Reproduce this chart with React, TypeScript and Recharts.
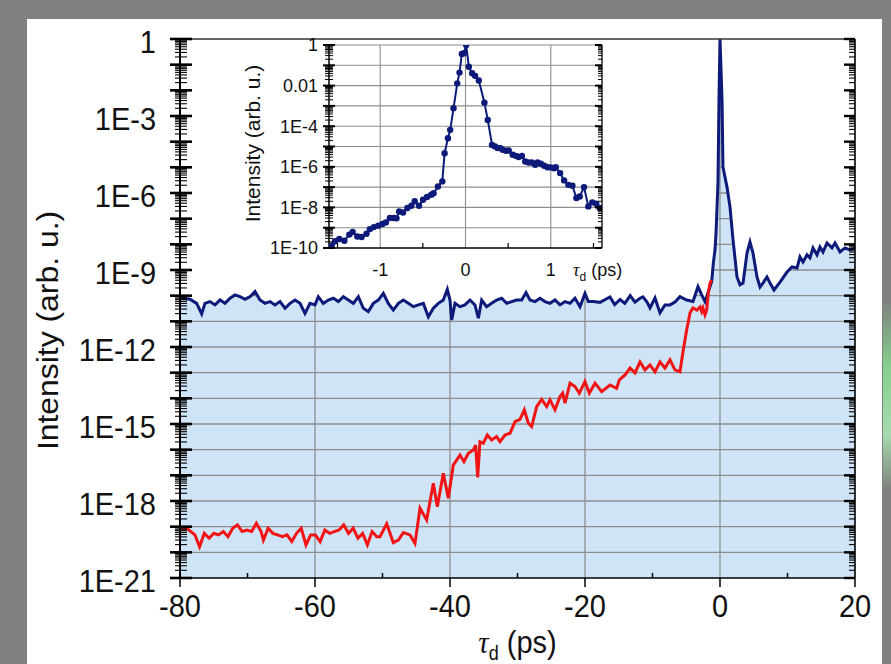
import React from 'react'
import { ComposedChart, Line, Area, XAxis, YAxis, CartesianGrid, ReferenceLine } from 'recharts'

const NAVY = '#0d1a7a'
const RED = '#f01414'
const FILL = '#cfe4f7'
const GRID = '#8e8e8e'
const GRAY = '#7f817e'
const FONT = '"Liberation Sans", Arial, sans-serif'

// main plot, blue trace: delay (ps) and log10 of intensity
const blueT = [
  -80, -79.51, -78.52, -77.53, -76.79, -76.3, -75.56, -74.81, -74.07, -73.33, -72.59, -71.85, -71.11,
  -70.37, -69.63, -68.89, -68.15, -67.41, -66.67, -65.93, -65.19, -64.44, -63.7, -62.96, -62.22, -61.48,
  -60.74, -60, -59.51, -58.77, -58.02, -57.28, -56.54, -55.8, -55.06, -54.32, -53.58, -52.84, -52.1,
  -51.36, -50.62, -49.88, -49.14, -48.4, -47.65, -46.91, -46.17, -45.43, -44.69, -43.95, -43.21, -42.47,
  -41.73, -40.99, -40.4, -40, -39.75, -39.26, -38.52, -37.78, -37.04, -36.3, -35.8, -35.31, -34.57,
  -33.83, -33.09, -32.35, -31.6, -30.86, -30.12, -29.38, -28.74, -28.15, -27.41, -26.67, -25.93, -25.19,
  -24.44, -23.7, -22.96, -22.22, -21.48, -20.74, -20, -19.51, -18.77, -17.78, -17, -16.3, -15.6, -14.8,
  -14.1, -13.3, -12.6, -11.85, -11.41, -10.81, -10.37, -9.63, -8.89, -8.15, -7.41, -6.67, -5.93, -4.94,
  -4, -3.26, -2.71, -2.22, -1.78, -1.23, -0.99, -0.74, -0.59, -0.3, -0.15, 0, 0.3, 0.44, 1.04, 1.48,
  1.93, 2.52, 2.96, 3.41, 4, 4.44, 4.89, 5.48, 5.93, 6.37, 6.96, 7.41, 8, 8.89, 9.93, 10.67, 11.41,
  11.85, 12.3, 12.89, 13.33, 13.78, 14.37, 14.81, 15.26, 15.85, 16.59, 17.04, 17.78, 18.52, 19.26, 20,
]
const blueExp = [
  -10.05, -10.1, -10.14, -10.3, -10.71, -10.3, -10.23, -10.36, -10.17, -10.3, -10.1, -9.97, -10.04,
  -10.14, -10.04, -9.84, -10.17, -10.3, -10.23, -10.36, -10.23, -10.49, -10.3, -10.17, -10.3, -10.69,
  -10.3, -10.36, -10.04, -10.3, -10.17, -10.1, -10.23, -10.04, -10.17, -10.3, -10.04, -10.49, -10.62,
  -10.3, -10.17, -9.91, -10.3, -10.56, -10.3, -10.17, -10.3, -10.43, -10.36, -10.3, -10.82, -10.49,
  -10.3, -10.17, -9.75, -10.17, -10.95, -10.3, -10.43, -10.36, -10.17, -10.36, -10.88, -10.17, -10.43,
  -10.3, -10.17, -10.1, -10.3, -10.23, -10.17, -10.17, -9.88, -10.17, -10.23, -10.1, -10.23, -10.3,
  -10.17, -10.36, -10.23, -10.3, -10.1, -10.43, -9.91, -10.23, -10.23, -10.26, -10.15, -10.05, -10.35, -10.15,
  -10.3, -10.0, -10.25, -10.1, -10.05, -10.25, -10.48, -10.09, -10.67, -10.36, -10.36, -10.25, -10.04, -10.17,
  -10.23, -9.65, -9.97, -10.23, -9.89, -9.45, -8.73, -8.22, -7.56, -5.61, -2.38, 0, -2.38, -4.99, -5.77, -6.54,
  -7.83, -9.27, -9.58, -9.51, -8.34, -7.91, -8.34, -9.27, -9.66, -9.51, -9.27, -9.51, -9.78, -9.47, -9.08, -8.88, -8.92,
  -8.49, -8.69, -8.41, -8.53, -8.14, -8.41, -8.1, -8.3, -7.95, -8.14, -7.95, -8.3, -8.14, -8.22, -8.14,
]

// main plot, red trace
const redT = [
  -80, -79.54, -78.84, -77.79, -77.1, -76.4, -75.69, -74.99, -74.29, -73.59, -72.89, -72.19, -71.49,
  -70.79, -70.09, -69.39, -68.69, -67.99, -67.64, -66.94, -66.24, -65.54, -64.84, -64.14, -63.44, -62.74,
  -62.04, -61.34, -60.64, -59.94, -59.24, -58.54, -57.84, -57.14, -56.44, -55.74, -55.04, -54.34, -53.64,
  -52.94, -52.24, -51.54, -50.84, -50.37, -49.38, -48.4, -47.65, -46.91, -45.93, -45.19, -44.44, -43.46,
  -42.47, -41.88, -40.99, -40.25, -39.51, -38.52, -37.93, -37.28, -36.54, -36.2, -35.9, -35.56, -35.06,
  -34.47, -33.83, -33.09, -32.59, -31.85, -31.11, -30.37, -29.63, -28.99, -28.4, -27.9, -27.16, -26.42,
  -25.68, -25.19, -24.44, -23.7, -23.31, -22.96, -22.22, -21.48, -20.84, -20, -19.36, -18.52, -17.53,
  -16.3, -15.31, -14.91, -14.07, -13.33, -12.59, -11.85, -11.11, -10.37, -9.63, -8.89, -8.15, -7.41,
  -6.67, -5.93, -5.44, -4.94, -4.44, -4, -3.41, -2.96, -2.71, -2.52, -2.22, -1.97, -1.73, -1.48, -1.23,
]
const redExp = [
  -19.05, -19.06, -19.1, -19.32, -19.78, -19.26, -19.45, -19.26, -19.32, -19.19, -19.39, -19.06, -18.93,
  -19.19, -19.13, -19.19, -18.87, -19.19, -19.52, -19.06, -19.26, -19.32, -19.39, -19.32, -19.58, -19.26,
  -19.06, -19.71, -19.32, -19.32, -19.58, -19.13, -19.26, -19.19, -19.13, -18.93, -19.26, -19.06, -19.45,
  -19.26, -19.71, -19.19, -19.39, -19.39, -18.89, -19.62, -19.52, -19.23, -19.32, -19.65, -18.28, -18.74,
  -17.31, -18.22, -16.92, -17.89, -16.6, -16.21, -16.47, -16.14, -16.01, -15.82, -17.08, -15.69, -15.75,
  -15.43, -15.62, -15.49, -15.69, -15.43, -15.36, -14.91, -14.82, -14.45, -14.97, -15.1, -14.32, -14.04,
  -14.32, -14.06, -14.45, -13.93, -13.8, -14.19, -13.41, -13.54, -13.8, -13.35, -13.8, -13.41, -13.74,
  -13.48, -13.61, -13.28, -13.09, -12.82, -13.01, -12.58, -12.89, -12.7, -12.97, -12.58, -12.82, -12.5,
  -12.89, -12.96, -12.12, -11.34, -10.67, -10.48, -10.56, -10.44, -10.62, -10.48, -10.75, -10.56, -9.89, -9.51, -9.39,
]

// inset, measured points around zero delay
const insetT = [
  -1.568, -1.529, -1.479, -1.42, -1.362, -1.323, -1.268, -1.218, -1.16, -1.121, -1.074, -1.023, -0.973,
  -0.934, -0.887, -0.84, -0.809, -0.778, -0.732, -0.681, -0.634, -0.595, -0.545, -0.498, -0.451, -0.401,
  -0.374, -0.323, -0.272, -0.245, -0.206, -0.179, -0.14, -0.097, -0.07, -0.043, -0.019, 0.008, 0.039,
  0.078, 0.113, 0.156, 0.222, 0.261, 0.311, 0.346, 0.377, 0.409, 0.436, 0.475, 0.506, 0.553, 0.591,
  0.623, 0.661, 0.7, 0.739, 0.778, 0.817, 0.844, 0.883, 0.922, 0.961, 1.0, 1.039, 1.058, 1.109, 1.156,
  1.206, 1.253, 1.3, 1.339, 1.389, 1.44, 1.486, 1.533, 1.572,
]
const insetExp = [
  -9.89, -9.67, -9.56, -9.64, -9.34, -9.21, -9.43, -9.46, -9.3, -9.07, -8.97, -8.9, -8.82,
  -8.74, -8.52, -8.52, -8.54, -8.2, -8.25, -8.03, -7.92, -7.7, -7.92, -7.62, -7.49, -7.38,
  -7.3, -6.97, -6.72, -5.33, -4.59, -4.18, -3.11, -1.89, -1.36, -0.44, -0.41, 0, -1.07,
  -1.39, -1.52, -1.75, -2.84, -3.69, -4.92, -5.0, -5.08, -5.08, -5.16, -5.21, -5.2, -5.41, -5.46,
  -5.52, -5.46, -5.74, -5.79, -5.79, -5.9, -5.79, -5.85, -5.95, -6.02, -6.03, -6.07, -6.02, -6.31, -6.67,
  -6.89, -6.93, -7.54, -7.46, -7.0, -7.95, -7.75, -7.82, -8.03,
]

const mainXTicks = [-80, -70, -60, -50, -40, -30, -20, -10, 0, 10, 20]
const mainXLabels = [-80, -60, -40, -20, 0, 20]
const mainYLabelExps = [0, -3, -6, -9, -12, -15, -18, -21]
const mainYLabelText = ['1', '1E-3', '1E-6', '1E-9', '1E-12', '1E-15', '1E-18', '1E-21']

const insetXTicks = [-1.5, -1, -0.5, 0, 0.5, 1, 1.5]
const insetXLabels = [-1, 0, 1]
const insetYLabelExps = [0, -2, -4, -6, -8, -10]
const insetYLabelText = ['1', '0.01', '1E-4', '1E-6', '1E-8', '1E-10']

const toI = (e: number) => Math.pow(10, e)
const blueData = blueT.map((t, i) => ({ t, I: toI(blueExp[i]), cover: [toI(blueExp[i]), 1] }))
const redData = redT.map((t, i) => ({ t, I: toI(redExp[i]) }))
const insetData = insetT.map((t, i) => ({ t, I: toI(insetExp[i]) }))

// log ticks: every decade plus 2..9 inside each decade
function logTicks(lo: number, hi: number) {
  const out: number[] = []
  for (let d = lo; d < hi; d++) {
    for (let k = 1; k <= 9; k++) out.push(Number(`${k}e${d}`))
  }
  out.push(Number(`1e${hi}`))
  return out
}
const decades = (lo: number, hi: number) => {
  const out: number[] = []
  for (let d = lo; d <= hi; d++) out.push(Number(`1e${d}`))
  return out
}
const mainYTicks = logTicks(-21, 0)
const insetYTicks = logTicks(-10, 0)

const isDecade = (v: number) => {
  const l = Math.log10(v)
  return Math.abs(l - Math.round(l)) < 1e-6
}

// the source figure is slightly taller than wide, so the big labels are stretched
const STRETCH = 1.1

function MainLeftTick({ x, y, payload }: any) {
  const dec = isDecade(payload.value)
  const idx = dec ? mainYLabelExps.indexOf(Math.round(Math.log10(payload.value))) : -1
  return (
    <g>
      <line x1={x - (dec ? 10 : 5)} x2={x + (dec ? 12 : 7)} y1={y} y2={y} stroke="#000" strokeWidth={dec ? 2.6 : 1.1} />
      {idx >= 0 && (
        <text
          transform={`translate(${x - 24} ${y + 3}) scale(1 ${STRETCH})`}
          dy="0.36em"
          textAnchor="end"
          fontSize={29}
          fontFamily={FONT}
          fill="#111"
        >
          {mainYLabelText[idx]}
        </text>
      )}
    </g>
  )
}

function MainRightTick({ x, y, payload }: any) {
  const dec = isDecade(payload.value)
  return <line x1={x - (dec ? 11 : 6)} x2={x} y1={y} y2={y} stroke="#000" strokeWidth={dec ? 2.4 : 1.1} />
}

function MainXTick({ x, y, payload }: any) {
  const labeled = mainXLabels.includes(payload.value)
  return (
    <g>
      <line x1={x} x2={x} y1={labeled ? y : y - 5} y2={labeled ? y + 9 : y} stroke="#000" strokeWidth={1.5} />
      {labeled && (
        <text
          transform={`translate(${x} ${y + 28}) scale(1 ${STRETCH})`}
          dy="0.36em"
          textAnchor="middle"
          fontSize={29}
          fontFamily={FONT}
          fill="#111"
        >
          {payload.value}
        </text>
      )}
    </g>
  )
}

function MainXLabel({ viewBox }: any) {
  const { x, y, width } = viewBox
  return (
    <text
      transform={`translate(${x + width / 2} ${y + 75}) scale(1 ${STRETCH})`}
      textAnchor="middle"
      fontSize={29}
      fontFamily={FONT}
      fill="#111"
    >
      <tspan fontStyle="italic" fontFamily='"Liberation Serif", serif'>τ</tspan>
      <tspan fontSize={18} dy={6}>d</tspan>
      <tspan dy={-6}> (ps)</tspan>
    </text>
  )
}

function MainYLabel({ viewBox }: any) {
  const { x, y, height } = viewBox
  const cx = x + 18
  const cy = y + height / 2 + 22
  return (
    <text
      transform={`translate(${cx} ${cy}) rotate(-90) scale(${STRETCH} 1)`}
      textAnchor="middle"
      dy="0.36em"
      fontSize={29}
      fontFamily={FONT}
      fill="#111"
    >
      Intensity (arb. u.)
    </text>
  )
}

function InsetLeftTick({ x, y, payload }: any) {
  const dec = isDecade(payload.value)
  const idx = dec ? insetYLabelExps.indexOf(Math.round(Math.log10(payload.value))) : -1
  return (
    <g>
      <line x1={x - (dec ? 6 : 4)} x2={x + (dec ? 6 : 4)} y1={y} y2={y} stroke="#000" strokeWidth={dec ? 2 : 1} />
      {idx >= 0 && (
        <text x={x - 11} y={y} dy="0.36em" textAnchor="end" fontSize={18} fontFamily={FONT} fill="#111">
          {insetYLabelText[idx]}
        </text>
      )}
    </g>
  )
}

function InsetRightTick({ x, y, payload }: any) {
  const dec = isDecade(payload.value)
  return <line x1={x - (dec ? 7 : 4)} x2={x} y1={y} y2={y} stroke="#000" strokeWidth={dec ? 2 : 1} />
}

function InsetXTick({ x, y, payload }: any) {
  const labeled = insetXLabels.includes(payload.value)
  return (
    <g>
      {!labeled && <line x1={x} x2={x} y1={y - 5} y2={y} stroke="#000" strokeWidth={1.2} />}
      {labeled && (
        <text x={x} y={y + 22} dy="0.36em" textAnchor="middle" fontSize={18} fontFamily={FONT} fill="#111">
          {payload.value}
        </text>
      )}
    </g>
  )
}

function InsetXLabel({ viewBox }: any) {
  const { x, y, width } = viewBox
  return (
    <text x={x + width - 29} y={y + 28} fontSize={18} fontFamily={FONT} fill="#111">
      <tspan fontStyle="italic" fontFamily='"Liberation Serif", serif'>τ</tspan>
      <tspan fontSize={12} dy={5}>d</tspan>
      <tspan dy={-5}> (ps)</tspan>
    </text>
  )
}

function InsetYLabel({ viewBox }: any) {
  const { x, y, height } = viewBox
  const cx = x - 17
  const cy = y + height / 2 - 3
  return (
    <text x={cx} y={cy} transform={`rotate(-90 ${cx} ${cy})`} textAnchor="middle" dy="0.36em" fontSize={21} fontFamily={FONT} fill="#111">
      Intensity (arb. u.)
    </text>
  )
}

export default function App() {
  return (
    <div style={{ position: 'relative', width: 891, height: 664, background: GRAY, overflow: 'hidden', fontFamily: FONT }}>
      <style>{'body{margin:0}'}</style>
      <div style={{ position: 'absolute', left: 27, top: 19, width: 855, height: 645, background: '#fff' }} />
      <div
        style={{
          position: 'absolute', left: 883, top: 300, width: 8, height: 190,
          background: 'linear-gradient(to bottom, rgba(130,205,140,0), #84cf8e 35%, #a6dcae 70%, rgba(130,205,140,0))',
        }}
      />

      <div style={{ position: 'absolute', left: 0, top: 0 }}>
        <ComposedChart width={891} height={664} margin={{ top: 39, right: 24, bottom: 0, left: 30 }}>
          <CartesianGrid
            fill={FILL}
            fillOpacity={1}
            stroke={GRID}
            strokeWidth={1.3}
            horizontalValues={decades(-20, -1)}
            verticalValues={[-60, -40, -20, 0]}
          />
          <Area
            data={blueData}
            dataKey="cover"
            type="linear"
            stroke="none"
            fill="#ffffff"
            fillOpacity={1}
            isAnimationActive={false}
          />
          <Line data={blueData} dataKey="I" type="linear" stroke={NAVY} strokeWidth={3} dot={false} isAnimationActive={false} />
          <Line data={redData} dataKey="I" yAxisId="r" type="linear" stroke={RED} strokeWidth={3} dot={false} isAnimationActive={false} />
          <ReferenceLine y={1} stroke="#333" strokeWidth={1.6} />
          <XAxis
            type="number"
            dataKey="t"
            domain={[-80, 20]}
            allowDataOverflow
            ticks={mainXTicks}
            interval={0}
            tick={(p: any) => <MainXTick {...p} />}
            tickLine={false}
            tickSize={0}
            tickMargin={0}
            axisLine={{ stroke: '#000', strokeWidth: 1.6 }}
            height={86}
            label={<MainXLabel />}
          />
          <YAxis
            scale="log"
            domain={[1e-21, 1]}
            allowDataOverflow
            ticks={mainYTicks}
            interval={0}
            tick={(p: any) => <MainLeftTick {...p} />}
            tickLine={false}
            tickSize={0}
            tickMargin={0}
            axisLine={{ stroke: '#000', strokeWidth: 2 }}
            width={150}
            label={<MainYLabel />}
          />
          <YAxis
            yAxisId="r"
            orientation="right"
            scale="log"
            domain={[1e-21, 1]}
            allowDataOverflow
            ticks={mainYTicks}
            interval={0}
            tick={(p: any) => <MainRightTick {...p} />}
            tickLine={false}
            tickSize={0}
            tickMargin={0}
            axisLine={{ stroke: '#000', strokeWidth: 1.6 }}
            width={12}
          />
        </ComposedChart>
      </div>

      <div style={{ position: 'absolute', left: 230, top: 25 }}>
        <ComposedChart width={410} height={265} margin={{ top: 20, right: 30, bottom: 0, left: 39 }}>
          <CartesianGrid
            fill="#ffffff"
            fillOpacity={1}
            stroke={GRID}
            strokeWidth={1.1}
            horizontalValues={decades(-9, 0)}
            verticalValues={[-1, 0, 1]}
          />
          <Line
            data={insetData}
            dataKey="I"
            type="linear"
            stroke={NAVY}
            strokeWidth={2}
            dot={{ r: 3.2, fill: NAVY, stroke: NAVY, strokeWidth: 0 }}
            isAnimationActive={false}
          />
          <XAxis
            type="number"
            dataKey="t"
            domain={[-1.6, 1.6]}
            allowDataOverflow
            ticks={insetXTicks}
            interval={0}
            tick={(p: any) => <InsetXTick {...p} />}
            tickLine={false}
            tickSize={0}
            tickMargin={0}
            axisLine={{ stroke: '#000', strokeWidth: 1.3 }}
            height={42}
            label={<InsetXLabel />}
          />
          <YAxis
            scale="log"
            domain={[1e-10, 1]}
            allowDataOverflow
            ticks={insetYTicks}
            interval={0}
            tick={(p: any) => <InsetLeftTick {...p} />}
            tickLine={false}
            tickSize={0}
            tickMargin={0}
            axisLine={{ stroke: '#000', strokeWidth: 1.5 }}
            width={60}
            label={<InsetYLabel />}
          />
          <YAxis
            yAxisId="r"
            orientation="right"
            scale="log"
            domain={[1e-10, 1]}
            allowDataOverflow
            ticks={insetYTicks}
            interval={0}
            tick={(p: any) => <InsetRightTick {...p} />}
            tickLine={false}
            tickSize={0}
            tickMargin={0}
            axisLine={{ stroke: '#000', strokeWidth: 1.3 }}
            width={8}
          />
        </ComposedChart>
      </div>
    </div>
  )
}
